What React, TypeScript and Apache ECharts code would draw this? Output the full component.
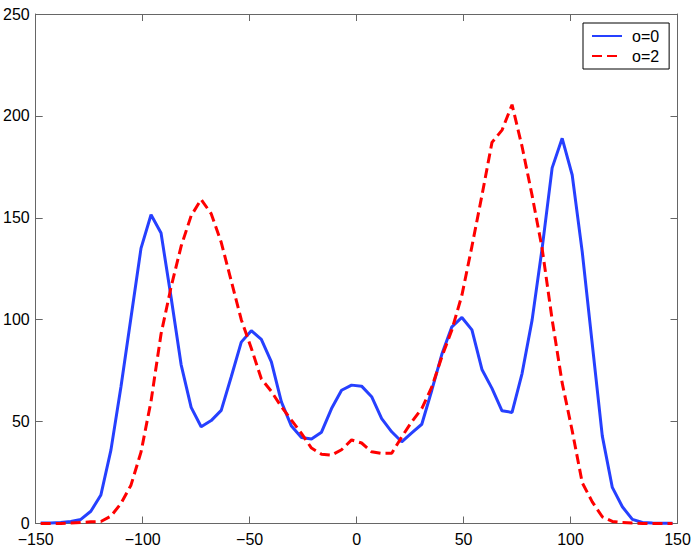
import React, { useEffect, useRef } from "react";
import * as echarts from "echarts";

const xCenters: number[] = [
  -147.66, -142.97, -138.28, -133.59, -128.91, -124.22, -119.53, -114.84,
  -110.16, -105.47, -100.78, -96.09, -91.41, -86.72, -82.03, -77.34,
  -72.66, -67.97, -63.28, -58.59, -53.91, -49.22, -44.53, -39.84,
  -35.16, -30.47, -25.78, -21.09, -16.41, -11.72, -7.03, -2.34,
  2.34, 7.03, 11.72, 16.41, 21.09, 25.78, 30.47, 35.16,
  39.84, 44.53, 49.22, 53.91, 58.59, 63.28, 67.97, 72.66,
  77.34, 82.03, 86.72, 91.41, 96.09, 100.78, 105.47, 110.16,
  114.84, 119.53, 124.22, 128.91, 133.59, 138.28, 142.97, 147.66,
];

const o0Values: number[] = [
  0.2, 0.3, 0.5, 1, 2, 6, 14, 36,
  67, 101, 135, 151.5, 142.5, 111, 78, 57,
  47.5, 50.5, 55.5, 72, 89, 94.6, 90.3, 79.3,
  59.7, 47.8, 42.2, 41.5, 44.8, 56.4, 65.4, 67.9,
  67.4, 62.2, 51.5, 45, 40.1, 44.5, 48.7, 65.4,
  83, 96.5, 101.1, 95, 75.6, 66.3, 55.3, 54.5,
  73.6, 99.8, 135, 174.5, 189, 171, 133.3, 88,
  43, 17.7, 8.2, 2, 0.5, 0.2, 0.1, 0.1,
];

const o2Values: number[] = [
  0, 0, 0, 0.2, 0.5, 0.8, 1, 3.6,
  9.8, 18.8, 35, 60, 93, 116, 136, 151,
  159, 152, 138, 119, 100, 86, 71, 64.8,
  57.3, 50.7, 44.2, 37, 34, 33.5, 36.2, 41,
  39.5, 35.2, 34.4, 34.5, 42.5, 49.9, 56.4, 67,
  81.8, 95, 112, 136, 161, 187, 193, 205.5,
  185, 161, 135, 100, 69, 45.5, 20, 10.6,
  3.3, 1, 0.5, 0.2, 0, 0, 0, 0,
];

const seriesNames: string[] = ["o=0", "o=2"];
const xTicks = { min: -150, max: 150, interval: 50 };
const yTicks = { min: 0, max: 250, interval: 50 };

const FONT = "'Liberation Sans', Arial, Helvetica, sans-serif";
const AXIS_COLOR = "#666666";

export default function App() {
  const ref = useRef<HTMLDivElement>(null);

  useEffect(() => {
    if (!ref.current) return;
    const chart = echarts.init(ref.current, undefined, { renderer: "svg" });

    const fmt = (v: number) => String(v).replace("-", "\u2212");

    const axisCommon = {
      type: "value" as const,
      axisLine: { show: true, onZero: false, lineStyle: { color: AXIS_COLOR, width: 1 } },
      axisTick: { show: true, inside: true, length: 7, lineStyle: { color: AXIS_COLOR, width: 1 } },
      splitLine: { show: false },
    };

    chart.setOption({
      animation: false,
      backgroundColor: "#ffffff",
      textStyle: { fontFamily: FONT },
      grid: { left: 33.5, top: 14, right: 20.5, bottom: 25.5 },
      legend: {
        data: seriesNames,
        orient: "vertical",
        left: 583,
        top: 23,
        padding: [5, 10, 5, 8],
        itemWidth: 30,
        itemHeight: 14,
        itemGap: 4,
        borderColor: "#000000",
        borderWidth: 1,
        borderRadius: 0,
        backgroundColor: "#ffffff",
        itemStyle: { opacity: 0 },
        textStyle: { fontSize: 16, color: "#000000", fontFamily: FONT, padding: [0, 0, 0, 5], lineHeight: 14 },
      },
      xAxis: [
        {
          ...axisCommon,
          position: "bottom",
          min: xTicks.min,
          max: xTicks.max,
          interval: xTicks.interval,
          axisLabel: { show: true, color: "#000000", fontSize: 16, fontFamily: FONT, margin: 8, formatter: fmt },
        },
        {
          ...axisCommon,
          position: "top",
          min: xTicks.min,
          max: xTicks.max,
          interval: xTicks.interval,
          axisLabel: { show: false },
        },
      ],
      yAxis: [
        {
          ...axisCommon,
          position: "left",
          min: yTicks.min,
          max: yTicks.max,
          interval: yTicks.interval,
          axisLabel: { show: true, color: "#000000", fontSize: 16, fontFamily: FONT, margin: 6, formatter: fmt },
        },
        {
          ...axisCommon,
          position: "right",
          min: yTicks.min,
          max: yTicks.max,
          interval: yTicks.interval,
          axisLabel: { show: false },
        },
      ],
      series: [
        {
          name: seriesNames[0],
          type: "line",
          xAxisIndex: 0,
          yAxisIndex: 0,
          symbol: "none",
          data: xCenters.map((x, i) => [x, o0Values[i]]),
          itemStyle: { color: "#2640ff" },
          lineStyle: { color: "#2640ff", width: 3, type: "solid" },
        },
        {
          name: seriesNames[1],
          type: "line",
          xAxisIndex: 0,
          yAxisIndex: 0,
          symbol: "none",
          data: xCenters.map((x, i) => [x, o2Values[i]]),
          itemStyle: { color: "#ff0000" },
          lineStyle: { color: "#ff0000", width: 3, type: [10, 5] },
        },
      ],
    });

    return () => chart.dispose();
  }, []);

  return (
    <div
      ref={ref}
      style={{ position: "fixed", left: 0, top: 0, width: 698, height: 549 }}
    />
  );
}
